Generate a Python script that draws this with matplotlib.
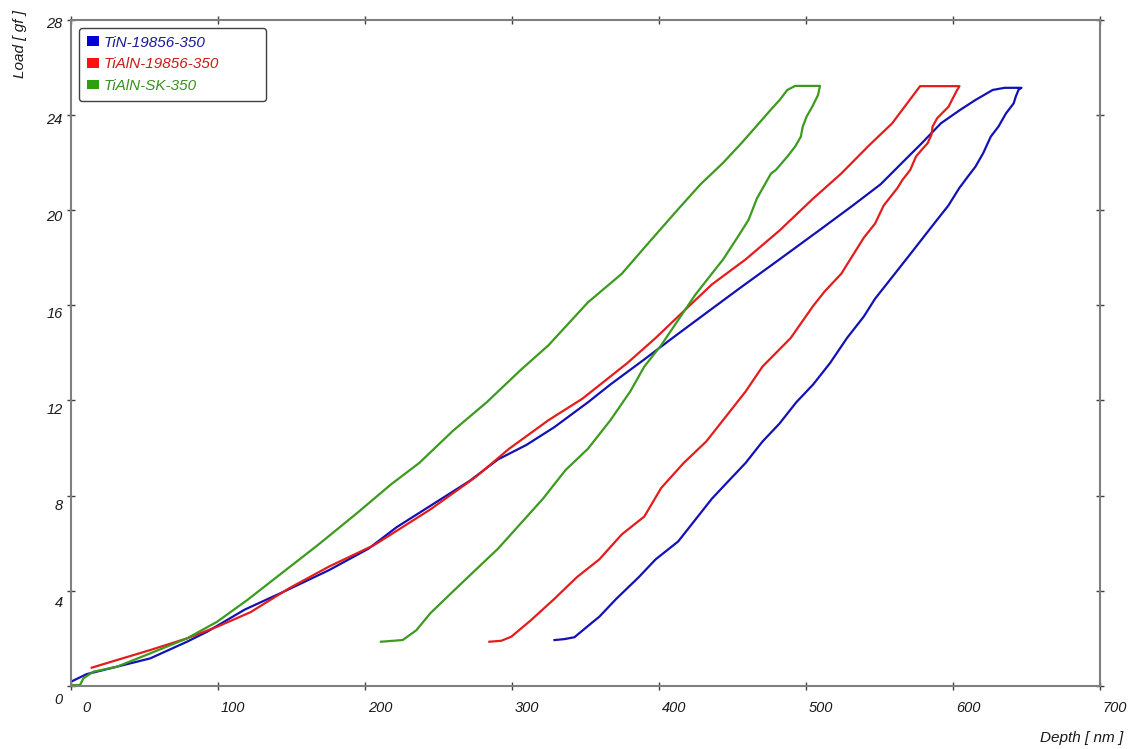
"""
Nanoindentation load-depth curves
"""

import matplotlib.pyplot as plt
from matplotlib.patches import Patch
from matplotlib.transforms import ScaledTranslation

plt.rcParams['font.family'] = ['Liberation Sans', 'DejaVu Sans']

# series names and colours
names = ['TiN-19856-350', 'TiAlN-19856-350', 'TiAlN-SK-350']
line_colors = ['#1212b4', '#e41c1c', '#3c9a1e']
patch_colors = ['#0000d8', '#ff1010', '#2ea010']
text_colors = ['#1a1a9a', '#d01818', '#3a9020']

# TiN-19856-350 (blue)
tin_load_x = [0, 10.7, 26.6, 53.9, 78.9, 92.6, 118.2, 145.0, 175.6, 202.4, 221.5, 244.5, 271.3,
              290.5, 309.6, 328.7, 351.7, 367.0, 390.0, 409.2, 432.1, 455.1, 481.9, 508.7, 531.7,
              550.8, 566.0, 578.7, 591.8, 604.8, 615.3, 627.0, 635.1, 646.6]
tin_load_y = [0.18, 0.50, 0.74, 1.16, 1.86, 2.28, 3.21, 3.97, 4.87, 5.77, 6.67, 7.57, 8.62,
              9.52, 10.12, 10.87, 11.92, 12.67, 13.72, 14.62, 15.67, 16.72, 17.92, 19.13, 20.18,
              21.08, 22.02, 22.80, 23.64, 24.20, 24.62, 25.04, 25.13, 25.13]
tin_unload_x = [644.6, 642.7, 641.3, 636.1, 630.9, 625.7, 620.5, 615.3, 610.1, 604.4, 596.8,
                589.1, 581.5, 570.0, 558.5, 547.0, 539.3, 527.9, 516.4, 504.9, 493.4, 481.9,
                470.4, 458.9, 447.4, 436.0, 424.5, 413.0, 397.7, 386.2, 370.9, 359.4, 354.0,
                342.5, 335.7, 328.9]
tin_unload_y = [25.05, 24.76, 24.48, 24.06, 23.50, 23.08, 22.38, 21.82, 21.40, 20.93, 20.18,
                19.58, 18.98, 18.07, 17.17, 16.27, 15.52, 14.62, 13.57, 12.67, 11.92, 11.02,
                10.27, 9.37, 8.62, 7.87, 6.97, 6.07, 5.32, 4.57, 3.66, 2.91, 2.64,
                2.05, 1.97, 1.93]

# TiAlN-19856-350 (red)
tialn_load_x = [14.1, 31.2, 53.9, 78.9, 99.4, 122.1, 148.8, 175.6, 206.2, 225.4, 244.5, 275.1,
                298.1, 324.9, 347.9, 363.2, 378.5, 397.7, 420.6, 436.0, 458.9, 481.9, 504.9,
                524.0, 543.2, 558.5, 577.6, 604.4]
tialn_load_y = [0.77, 1.09, 1.51, 2.00, 2.49, 3.10, 4.12, 5.02, 5.92, 6.67, 7.42, 8.77,
                9.97, 11.17, 12.07, 12.82, 13.57, 14.62, 15.97, 16.87, 17.92, 19.13, 20.48,
                21.53, 22.73, 23.63, 25.20, 25.20]
tialn_unload_x = [602.2, 597.0, 589.2, 586.1, 585.3, 582.7, 578.6, 574.8, 570.9, 565.6, 562.3,
                  552.8, 547.0, 539.3, 531.7, 524.0, 512.6, 504.9, 489.6, 470.4, 458.9, 443.6,
                  432.1, 416.8, 401.5, 390.0, 374.7, 359.4, 344.1, 328.8, 313.0, 299.5, 292.7,
                  284.6]
tialn_unload_y = [24.97, 24.34, 23.85, 23.50, 23.15, 22.80, 22.52, 22.24, 21.68, 21.26, 20.93,
                  20.18, 19.43, 18.83, 18.08, 17.32, 16.57, 15.97, 14.62, 13.42, 12.37, 11.17,
                  10.27, 9.37, 8.32, 7.12, 6.37, 5.32, 4.57, 3.66, 2.77, 2.07, 1.90,
                  1.86]

# TiAlN-SK-350 (green)
sk_load_x = [0.5, 6.1, 8.4, 15.2, 31.2, 53.9, 78.9, 99.4, 119.9, 137.3, 167.9, 194.7, 217.7,
             236.9, 259.8, 282.8, 305.8, 324.9, 351.7, 374.7, 393.8, 413.0, 428.3, 443.6, 456.0,
             466.0, 476.9, 482.1, 487.3, 492.6, 509.5]
sk_load_y = [0.04, 0.04, 0.32, 0.60, 0.81, 1.37, 2.00, 2.70, 3.61, 4.45, 5.92, 7.27, 8.47,
             9.37, 10.72, 11.92, 13.27, 14.32, 16.12, 17.32, 18.68, 20.03, 21.08, 21.98, 22.80,
             23.50, 24.27, 24.62, 25.04, 25.21, 25.21]
sk_unload_x = [508.2, 504.3, 500.4, 497.8, 496.5, 492.6, 487.3, 479.5, 476.2, 466.6, 460.9,
               453.2, 443.6, 434.0, 424.5, 413.0, 401.5, 390.0, 380.4, 367.0, 351.7, 336.4,
               321.1, 305.8, 290.5, 275.1, 259.8, 244.5, 234.9, 225.6, 210.8]
sk_unload_y = [24.83, 24.34, 23.92, 23.50, 23.08, 22.66, 22.24, 21.68, 21.53, 20.48, 19.58,
               18.83, 17.92, 17.17, 16.42, 15.37, 14.32, 13.42, 12.37, 11.17, 9.97, 9.07,
               7.87, 6.82, 5.77, 4.87, 3.97, 3.06, 2.34, 1.93, 1.86]

x_ticks = [0, 100, 200, 300, 400, 500, 600, 700]
y_ticks = [0, 4, 8, 12, 16, 20, 24, 28]

fig = plt.figure(figsize=(11.42, 7.49), dpi=100)
ax = fig.add_axes([71 / 1142, 1 - 686 / 749, (1100 - 71) / 1142, (686 - 19.5) / 749])

curves = [
    (tin_load_x + tin_unload_x, tin_load_y + tin_unload_y),
    (tialn_load_x + tialn_unload_x, tialn_load_y + tialn_unload_y),
    (sk_load_x + sk_unload_x, sk_load_y + sk_unload_y),
]
for (xs, ys), c in zip(curves, line_colors):
    ax.plot(xs, ys, color=c, lw=1.6, solid_joinstyle='round')

ax.set_xlim(0, 700)
ax.set_ylim(0, 28)
ax.set_xticks(x_ticks)
ax.set_yticks(y_ticks)

for sp in ax.spines.values():
    sp.set_color('#7f7f7f')
    sp.set_linewidth(1.5)
ax.tick_params(direction='inout', length=6, width=1, color='#404040',
               top=True, right=True, labelsize=10.5, pad=3, labelcolor='#1a1a1a')

# the original software draws its labels a little off the ticks
for lab in ax.get_xticklabels():
    lab.set_style('italic')
    lab.set_transform(lab.get_transform() + ScaledTranslation(0.15, -0.07, fig.dpi_scale_trans))
for val, lab in zip(y_ticks, ax.get_yticklabels()):
    lab.set_style('italic')
    dy = -(3 + 9 * (28 - val) / 28) / 100
    lab.set_transform(lab.get_transform() + ScaledTranslation(0, dy, fig.dpi_scale_trans))

ax.set_xlabel('Depth [ nm ]', fontsize=11, style='italic', ha='right', va='center', color='#1a1a1a')
ax.xaxis.set_label_coords((1123 - 71) / 1029, -(738 - 686) / 666.5)
ax.set_ylabel('Load [ gf ]', fontsize=11, style='italic', ha='center', va='center', color='#1a1a1a')
ax.yaxis.set_label_coords((20 - 71) / 1029, (686 - 44) / 666.5)

# legend box is wider than its text in the original
handles = [Patch(facecolor=c, edgecolor='none') for c in patch_colors]
leg = ax.legend(handles, names, loc='upper left', mode='expand',
                bbox_to_anchor=(8 / 1029, (686 - 101) / 666.5, 187 / 1029, 73 / 666.5),
                borderaxespad=0, prop={'size': 11, 'style': 'italic'}, frameon=True,
                fancybox=True, edgecolor='#404040', framealpha=1, handlelength=0.8,
                handleheight=0.6, handletextpad=0.3, labelspacing=0.5, borderpad=0.5)
for t, c in zip(leg.get_texts(), text_colors):
    t.set_color(c)
leg.get_frame().set_linewidth(1.0)

fig.savefig('out.png', dpi=100)
